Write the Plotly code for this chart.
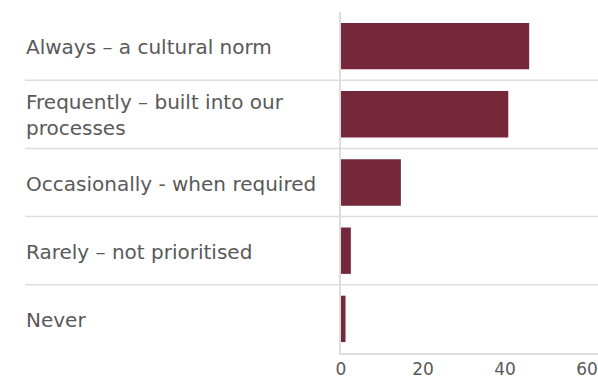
import plotly.graph_objects as go

categories = [
    "Always – a cultural norm",
    "Frequently – built into our<br>processes",
    "Occasionally - when required",
    "Rarely – not prioritised",
    "Never",
]
values = [45.9, 40.8, 14.6, 2.4, 1.1]
tick_vals = [0, 20, 40, 60]
tick_text = ["0", "20", "40", "60"]

W, H = 598, 381
left, right, top, bottom = 341, 0, 12, 28
plot_w = W - left - right

bar_color = "#74283A"
text_color = "#595959"
line_color = "#dddddd"
font_family = "DejaVu Sans, sans-serif"

fig = go.Figure(
    go.Bar(
        x=values,
        y=list(range(len(categories))),
        orientation="h",
        marker=dict(color=bar_color, line=dict(width=0)),
        width=0.68,
        hoverinfo="skip",
    )
)

annotations = []
for i, c in enumerate(categories):
    annotations.append(
        dict(
            x=(24 - left) / plot_w,
            xref="paper",
            y=i,
            yref="y",
            yshift=-1,
            text=c,
            showarrow=False,
            xanchor="left",
            yanchor="middle",
            align="left",
            font=dict(family=font_family, size=20, color=text_color),
        )
    )

shapes = []
for i in range(len(categories) - 1):
    shapes.append(
        dict(
            type="line",
            xref="paper",
            yref="y",
            x0=(25 - left) / plot_w,
            x1=1,
            y0=i + 0.5,
            y1=i + 0.5,
            line=dict(color=line_color, width=1.5),
            layer="below",
        )
    )

fig.update_layout(
    width=W,
    height=H,
    margin=dict(l=left, r=right, t=top, b=bottom, pad=0),
    paper_bgcolor="white",
    plot_bgcolor="white",
    showlegend=False,
    bargap=0.32,
    annotations=annotations,
    shapes=shapes,
    xaxis=dict(
        range=[0, 257 / 4.1],
        tickvals=tick_vals,
        ticktext=tick_text,
        showgrid=False,
        zeroline=False,
        showline=True,
        linecolor=line_color,
        linewidth=2,
        ticks="",
        tickfont=dict(family=font_family, size=17, color=text_color),
        fixedrange=True,
    ),
    yaxis=dict(
        range=[len(categories) - 0.5, -0.5],
        showticklabels=False,
        showgrid=False,
        zeroline=False,
        showline=True,
        linecolor=line_color,
        linewidth=2,
        ticks="",
        fixedrange=True,
    ),
)

fig.write_html("out.html")
